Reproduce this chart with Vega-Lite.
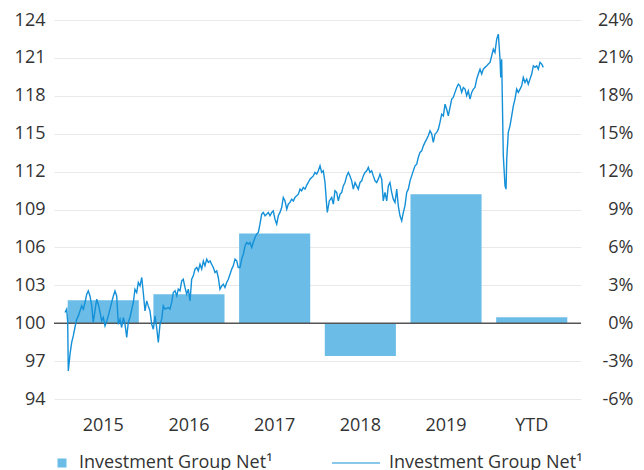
{
  "$schema": "https://vega.github.io/schema/vega-lite/v6.json",
  "width": 527,
  "height": 379,
  "autosize": {"type": "none"},
  "padding": {"left": 54, "top": 20, "right": 63, "bottom": 71},
  "background": "white",
  "config": {
    "view": {"stroke": null},
    "font": "Open Sans",
    "axis": {"labelFont": "Open Sans", "labelFontSize": 18, "labelColor": "#333", "domain": false, "ticks": false, "tickSize": 0, "title": null},
    "legend": {"labelFont": "Open Sans", "labelFontSize": 18, "labelColor": "#333", "labelLimit": 400, "layout": {"bottom": {"anchor": "middle", "direction": "horizontal", "margin": 58}}}
  },
  "layer": [
    {
      "data": {"values": [
        {"period": "2015", "return": 1.82},
        {"period": "2016", "return": 2.3},
        {"period": "2017", "return": 7.1},
        {"period": "2018", "return": -2.6},
        {"period": "2019", "return": 10.2},
        {"period": "YTD", "return": 0.47}
      ]},
      "mark": {"type": "bar"},
      "encoding": {
        "x": {"field": "period", "type": "nominal", "sort": null,
          "scale": {"paddingInner": 0.17, "paddingOuter": 0.16},
          "axis": {"labelAngle": 0, "labelPadding": 17, "grid": false, "orient": "bottom"}},
        "y": {"field": "return", "type": "quantitative",
          "scale": {"domain": [-6, 24], "nice": false, "zero": false},
          "axis": {"orient": "right", "values": [-6, -3, 0, 3, 6, 9, 12, 15, 18, 21, 24], "labelExpr": "datum.value + '%'", "labelAlign": "right", "labelPadding": 52, "grid": false}},
        "fill": {"datum": "Investment Group Net¹", "type": "nominal",
          "scale": {"range": ["#6bbde7"]},
          "legend": {"orient": "bottom", "title": null, "symbolType": "square", "symbolSize": 81, "labelOffset": 8, "offset": 13, "clipHeight": 32}}
      }
    },
    {
      "data": {"values": [{}]},
      "mark": {"type": "rule", "color": "#555555", "strokeWidth": 1.5},
      "encoding": {
        "y": {"datum": 100, "type": "quantitative", "scale": {"domain": [94, 124], "nice": false, "zero": false}, "axis": null}
      }
    },
    {
      "data": {"values": [
        {"t": 2015.047, "index": 100.85}, {"t": 2015.066, "index": 101.11}, {"t": 2015.078, "index": 100.08}, {"t": 2015.085, "index": 96.22},
        {"t": 2015.105, "index": 97.55}, {"t": 2015.125, "index": 98.5}, {"t": 2015.143, "index": 98.99}, {"t": 2015.163, "index": 99.68},
        {"t": 2015.183, "index": 100.32}, {"t": 2015.202, "index": 100.58}, {"t": 2015.221, "index": 100.97}, {"t": 2015.241, "index": 101.37},
        {"t": 2015.26, "index": 101.11}, {"t": 2015.28, "index": 101.66}, {"t": 2015.3, "index": 102.3}, {"t": 2015.318, "index": 102.56},
        {"t": 2015.338, "index": 102.16}, {"t": 2015.358, "index": 101.37}, {"t": 2015.376, "index": 100.08}, {"t": 2015.396, "index": 100.97},
        {"t": 2015.416, "index": 101.9}, {"t": 2015.435, "index": 101.5}, {"t": 2015.455, "index": 100.87}, {"t": 2015.474, "index": 100.18},
        {"t": 2015.493, "index": 100.45}, {"t": 2015.513, "index": 99.79}, {"t": 2015.533, "index": 100.18}, {"t": 2015.551, "index": 100.58},
        {"t": 2015.571, "index": 101.11}, {"t": 2015.591, "index": 101.66}, {"t": 2015.61, "index": 102.16}, {"t": 2015.629, "index": 102.56},
        {"t": 2015.649, "index": 102.16}, {"t": 2015.668, "index": 99.92}, {"t": 2015.688, "index": 100.32}, {"t": 2015.707, "index": 99.66},
        {"t": 2015.726, "index": 100.45}, {"t": 2015.746, "index": 99.92}, {"t": 2015.766, "index": 98.87}, {"t": 2015.784, "index": 100.06},
        {"t": 2015.804, "index": 100.45}, {"t": 2015.843, "index": 101.64}, {"t": 2015.862, "index": 102.69}, {"t": 2015.882, "index": 102.43},
        {"t": 2015.901, "index": 103.22}, {"t": 2015.921, "index": 102.95}, {"t": 2015.941, "index": 103.62}, {"t": 2015.959, "index": 102.43},
        {"t": 2015.979, "index": 100.97}, {"t": 2015.999, "index": 101.77}, {"t": 2016.017, "index": 101.37}, {"t": 2016.037, "index": 100.97},
        {"t": 2016.057, "index": 99.92}, {"t": 2016.076, "index": 99.52}, {"t": 2016.096, "index": 100.58}, {"t": 2016.115, "index": 99.66},
        {"t": 2016.134, "index": 98.47}, {"t": 2016.154, "index": 99.92}, {"t": 2016.174, "index": 100.32}, {"t": 2016.192, "index": 101.37},
        {"t": 2016.212, "index": 101.11}, {"t": 2016.251, "index": 101.24}, {"t": 2016.27, "index": 101.11}, {"t": 2016.29, "index": 101.64},
        {"t": 2016.309, "index": 102.43}, {"t": 2016.329, "index": 102.56}, {"t": 2016.349, "index": 102.16}, {"t": 2016.367, "index": 102.69},
        {"t": 2016.387, "index": 102.56}, {"t": 2016.407, "index": 103.35}, {"t": 2016.425, "index": 103.48}, {"t": 2016.445, "index": 102.83},
        {"t": 2016.465, "index": 102.3}, {"t": 2016.484, "index": 102.69}, {"t": 2016.504, "index": 101.77}, {"t": 2016.523, "index": 103.48},
        {"t": 2016.542, "index": 103.75}, {"t": 2016.562, "index": 104.28}, {"t": 2016.582, "index": 104.41}, {"t": 2016.6, "index": 104.14},
        {"t": 2016.62, "index": 104.67}, {"t": 2016.64, "index": 104.28}, {"t": 2016.659, "index": 104.93}, {"t": 2016.678, "index": 104.54},
        {"t": 2016.698, "index": 105.07}, {"t": 2016.717, "index": 104.81}, {"t": 2016.737, "index": 104.93}, {"t": 2016.756, "index": 104.67},
        {"t": 2016.775, "index": 104.41}, {"t": 2016.795, "index": 104.01}, {"t": 2016.815, "index": 104.14}, {"t": 2016.833, "index": 103.62},
        {"t": 2016.853, "index": 102.69}, {"t": 2016.873, "index": 102.95}, {"t": 2016.892, "index": 103.09}, {"t": 2016.911, "index": 102.83},
        {"t": 2016.931, "index": 103.22}, {"t": 2016.95, "index": 103.48}, {"t": 2016.97, "index": 103.88}, {"t": 2016.99, "index": 104.28},
        {"t": 2017.008, "index": 104.54}, {"t": 2017.028, "index": 105.07}, {"t": 2017.048, "index": 104.93}, {"t": 2017.066, "index": 104.41},
        {"t": 2017.086, "index": 104.41}, {"t": 2017.106, "index": 105.07}, {"t": 2017.125, "index": 105.46}, {"t": 2017.145, "index": 106.12},
        {"t": 2017.164, "index": 106.39}, {"t": 2017.183, "index": 106.26}, {"t": 2017.203, "index": 106.39}, {"t": 2017.223, "index": 105.99},
        {"t": 2017.241, "index": 106.39}, {"t": 2017.261, "index": 106.79}, {"t": 2017.281, "index": 107.05}, {"t": 2017.3, "index": 107.18},
        {"t": 2017.319, "index": 107.84}, {"t": 2017.339, "index": 108.63}, {"t": 2017.358, "index": 108.77}, {"t": 2017.378, "index": 108.5},
        {"t": 2017.397, "index": 108.63}, {"t": 2017.416, "index": 108.77}, {"t": 2017.436, "index": 108.5}, {"t": 2017.456, "index": 108.77},
        {"t": 2017.474, "index": 108.89}, {"t": 2017.494, "index": 108.23}, {"t": 2017.514, "index": 107.84}, {"t": 2017.533, "index": 108.5},
        {"t": 2017.552, "index": 108.77}, {"t": 2017.572, "index": 109.16}, {"t": 2017.591, "index": 109.95}, {"t": 2017.611, "index": 109.68},
        {"t": 2017.631, "index": 109.03}, {"t": 2017.649, "index": 109.42}, {"t": 2017.669, "index": 109.56}, {"t": 2017.689, "index": 109.82},
        {"t": 2017.708, "index": 109.68}, {"t": 2017.727, "index": 109.95}, {"t": 2017.747, "index": 110.08}, {"t": 2017.766, "index": 110.21},
        {"t": 2017.786, "index": 110.61}, {"t": 2017.805, "index": 110.48}, {"t": 2017.824, "index": 110.74}, {"t": 2017.844, "index": 110.61},
        {"t": 2017.864, "index": 110.93}, {"t": 2017.882, "index": 111.14}, {"t": 2017.902, "index": 111.4}, {"t": 2017.922, "index": 111.54},
        {"t": 2017.941, "index": 111.66}, {"t": 2017.96, "index": 111.93}, {"t": 2017.98, "index": 111.8}, {"t": 2017.999, "index": 112.06},
        {"t": 2018.019, "index": 112.46}, {"t": 2018.038, "index": 111.93}, {"t": 2018.057, "index": 112.06}, {"t": 2018.077, "index": 111.14},
        {"t": 2018.097, "index": 109.29}, {"t": 2018.104, "index": 108.77}, {"t": 2018.127, "index": 109.68}, {"t": 2018.155, "index": 109.95},
        {"t": 2018.174, "index": 109.42}, {"t": 2018.193, "index": 110.48}, {"t": 2018.213, "index": 110.35}, {"t": 2018.232, "index": 109.68},
        {"t": 2018.252, "index": 110.21}, {"t": 2018.272, "index": 110.35}, {"t": 2018.29, "index": 110.87}, {"t": 2018.31, "index": 111.14},
        {"t": 2018.33, "index": 111.66}, {"t": 2018.349, "index": 111.93}, {"t": 2018.368, "index": 111.66}, {"t": 2018.388, "index": 111.27},
        {"t": 2018.407, "index": 110.61}, {"t": 2018.427, "index": 111.14}, {"t": 2018.446, "index": 110.87}, {"t": 2018.465, "index": 110.61},
        {"t": 2018.485, "index": 111.14}, {"t": 2018.505, "index": 111.27}, {"t": 2018.523, "index": 111.66}, {"t": 2018.543, "index": 111.93},
        {"t": 2018.563, "index": 112.06}, {"t": 2018.582, "index": 112.33}, {"t": 2018.601, "index": 111.93}, {"t": 2018.621, "index": 112.06},
        {"t": 2018.64, "index": 111.66}, {"t": 2018.66, "index": 111.27}, {"t": 2018.679, "index": 111.14}, {"t": 2018.698, "index": 111.4},
        {"t": 2018.718, "index": 111.8}, {"t": 2018.738, "index": 111.4}, {"t": 2018.756, "index": 109.68}, {"t": 2018.776, "index": 110.35},
        {"t": 2018.796, "index": 109.68}, {"t": 2018.815, "index": 110.87}, {"t": 2018.834, "index": 111.14}, {"t": 2018.854, "index": 110.35},
        {"t": 2018.873, "index": 109.82}, {"t": 2018.893, "index": 109.56}, {"t": 2018.913, "index": 110.61}, {"t": 2018.931, "index": 109.29},
        {"t": 2018.951, "index": 108.5}, {"t": 2018.971, "index": 108.1}, {"t": 2018.99, "index": 108.77}, {"t": 2019.009, "index": 109.29},
        {"t": 2019.029, "index": 110.35}, {"t": 2019.048, "index": 110.61}, {"t": 2019.068, "index": 111.27}, {"t": 2019.087, "index": 111.66},
        {"t": 2019.106, "index": 112.06}, {"t": 2019.126, "index": 112.46}, {"t": 2019.146, "index": 112.59}, {"t": 2019.164, "index": 113.12},
        {"t": 2019.184, "index": 113.52}, {"t": 2019.204, "index": 113.64}, {"t": 2019.223, "index": 114.04}, {"t": 2019.242, "index": 114.31},
        {"t": 2019.262, "index": 114.57}, {"t": 2019.281, "index": 114.83}, {"t": 2019.301, "index": 115.23}, {"t": 2019.321, "index": 114.97},
        {"t": 2019.339, "index": 114.31}, {"t": 2019.359, "index": 114.97}, {"t": 2019.379, "index": 115.1}, {"t": 2019.398, "index": 115.36},
        {"t": 2019.417, "index": 115.89}, {"t": 2019.437, "index": 116.55}, {"t": 2019.456, "index": 116.41}, {"t": 2019.476, "index": 117.34},
        {"t": 2019.495, "index": 116.94}, {"t": 2019.514, "index": 116.41}, {"t": 2019.534, "index": 117.08}, {"t": 2019.554, "index": 117.74},
        {"t": 2019.572, "index": 117.87}, {"t": 2019.592, "index": 118.27}, {"t": 2019.612, "index": 118.66}, {"t": 2019.631, "index": 118.92},
        {"t": 2019.65, "index": 118.79}, {"t": 2019.67, "index": 118.27}, {"t": 2019.689, "index": 118.66}, {"t": 2019.709, "index": 118.53},
        {"t": 2019.728, "index": 118.0}, {"t": 2019.747, "index": 118.39}, {"t": 2019.767, "index": 117.74}, {"t": 2019.787, "index": 118.27},
        {"t": 2019.806, "index": 118.53}, {"t": 2019.825, "index": 118.66}, {"t": 2019.845, "index": 119.32}, {"t": 2019.864, "index": 119.72},
        {"t": 2019.884, "index": 120.11}, {"t": 2019.903, "index": 119.72}, {"t": 2019.922, "index": 120.11}, {"t": 2019.942, "index": 120.25},
        {"t": 2019.962, "index": 120.37}, {"t": 2019.98, "index": 120.51}, {"t": 2020.0, "index": 120.64}, {"t": 2020.02, "index": 121.17},
        {"t": 2020.039, "index": 121.7}, {"t": 2020.058, "index": 121.43}, {"t": 2020.078, "index": 122.49}, {"t": 2020.097, "index": 122.88},
        {"t": 2020.117, "index": 120.9}, {"t": 2020.125, "index": 119.45}, {"t": 2020.136, "index": 120.9}, {"t": 2020.155, "index": 113.25},
        {"t": 2020.175, "index": 110.87}, {"t": 2020.187, "index": 110.61}, {"t": 2020.195, "index": 112.99}, {"t": 2020.213, "index": 115.1},
        {"t": 2020.233, "index": 115.62}, {"t": 2020.253, "index": 116.41}, {"t": 2020.272, "index": 117.21}, {"t": 2020.291, "index": 117.74},
        {"t": 2020.311, "index": 118.53}, {"t": 2020.33, "index": 118.27}, {"t": 2020.35, "index": 118.53}, {"t": 2020.369, "index": 118.79},
        {"t": 2020.388, "index": 119.45}, {"t": 2020.408, "index": 119.06}, {"t": 2020.428, "index": 119.32}, {"t": 2020.446, "index": 118.92},
        {"t": 2020.466, "index": 119.32}, {"t": 2020.486, "index": 119.72}, {"t": 2020.505, "index": 120.37}, {"t": 2020.524, "index": 120.25},
        {"t": 2020.544, "index": 120.37}, {"t": 2020.563, "index": 120.11}, {"t": 2020.583, "index": 120.64}, {"t": 2020.603, "index": 120.51},
        {"t": 2020.621, "index": 120.25}
      ]},
      "mark": {"type": "line", "strokeWidth": 1.4},
      "encoding": {
        "x": {"field": "t", "type": "quantitative", "scale": {"domain": [2014.9184, 2021.0606], "nice": false, "zero": false}, "axis": null},
        "y": {"field": "index", "type": "quantitative",
          "scale": {"domain": [94, 124], "nice": false, "zero": false},
          "axis": {"orient": "left", "values": [94, 97, 100, 103, 106, 109, 112, 115, 118, 121, 124], "grid": true, "gridColor": "#e9e9e9", "gridWidth": 1, "labelPadding": 9}},
        "stroke": {"datum": "Investment Group Net¹", "type": "nominal",
          "scale": {"range": ["#1490d8"]},
          "legend": {"orient": "bottom", "title": null, "symbolType": "stroke", "symbolSize": 2304, "symbolStrokeWidth": 1.2, "labelOffset": 8, "offset": 13, "clipHeight": 32}}
      }
    }
  ],
  "resolve": {"scale": {"x": "independent", "y": "independent", "fill": "independent", "stroke": "independent"}}
}
